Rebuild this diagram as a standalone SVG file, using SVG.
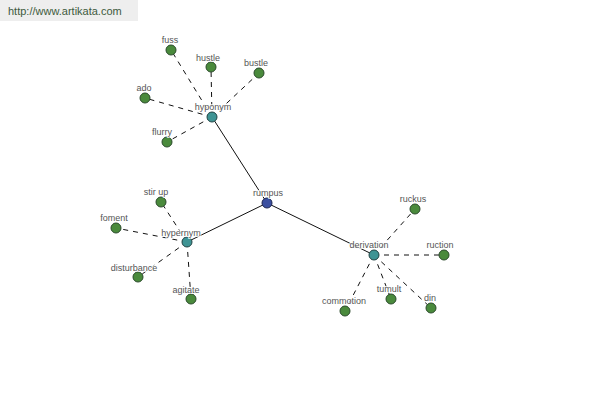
<svg xmlns="http://www.w3.org/2000/svg" width="600" height="400" viewBox="0 0 600 400">
<style>
.lbl{font-family:"Liberation Sans",Arial,sans-serif;font-size:9px;fill:#555;text-anchor:middle;paint-order:stroke;stroke:#fff;stroke-width:2px;stroke-opacity:0.8}
.leaf{fill:#4a8a3c;stroke:#2a4a2a;stroke-width:1}
.mid{fill:#3f9494;stroke:#224444;stroke-width:1}
.root{fill:#3b4fa0;stroke:#1c2550;stroke-width:1}
.solid{stroke:#111;stroke-width:1;fill:none}
.dash{stroke:#111;stroke-width:1;fill:none;stroke-dasharray:5,5}
</style>
<rect width="600" height="400" fill="#fff"/>
<g id="header">
<rect x="0" y="0" width="138" height="21" fill="#eeeeee"/>
<text x="8" y="15" font-family="Liberation Sans,Arial,sans-serif" font-size="11" fill="#3d5a3d">http://www.artikata.com</text>
</g>
<g id="connectors">
<line class="solid" x1="267" y1="203" x2="212" y2="117"/>
<line class="solid" x1="267" y1="203" x2="187" y2="242"/>
<line class="solid" x1="267" y1="203" x2="374" y2="255"/>
<line class="dash" x1="212" y1="117" x2="171" y2="50"/>
<line class="dash" x1="212" y1="117" x2="211" y2="67"/>
<line class="dash" x1="212" y1="117" x2="259" y2="73"/>
<line class="dash" x1="212" y1="117" x2="145" y2="98"/>
<line class="dash" x1="212" y1="117" x2="167" y2="142"/>
<line class="dash" x1="187" y1="242" x2="161" y2="202"/>
<line class="dash" x1="187" y1="242" x2="116" y2="228"/>
<line class="dash" x1="187" y1="242" x2="138" y2="277"/>
<line class="dash" x1="187" y1="242" x2="191" y2="299"/>
<line class="dash" x1="374" y1="255" x2="415" y2="209"/>
<line class="dash" x1="374" y1="255" x2="444" y2="255"/>
<line class="dash" x1="374" y1="255" x2="431" y2="308"/>
<line class="dash" x1="374" y1="255" x2="391" y2="299"/>
<line class="dash" x1="374" y1="255" x2="345" y2="311"/>
</g>
<g id="n-rumpus"><circle class="root" cx="267" cy="203" r="5"/><text class="lbl" x="268" y="195.5">rumpus</text></g>
<g id="n-hyponym"><circle class="mid" cx="212" cy="117" r="5"/><text class="lbl" x="213" y="109.5">hyponym</text></g>
<g id="n-hypernym"><circle class="mid" cx="187" cy="242" r="5"/><text class="lbl" x="181" y="235.5">hypernym</text></g>
<g id="n-derivation"><circle class="mid" cx="374" cy="255" r="5"/><text class="lbl" x="369" y="247.5">derivation</text></g>
<g id="n-fuss"><circle class="leaf" cx="171" cy="50" r="5"/><text class="lbl" x="170" y="42.5">fuss</text></g>
<g id="n-hustle"><circle class="leaf" cx="211" cy="67" r="5"/><text class="lbl" x="208" y="60.5">hustle</text></g>
<g id="n-bustle"><circle class="leaf" cx="259" cy="73" r="5"/><text class="lbl" x="256" y="65.5">bustle</text></g>
<g id="n-ado"><circle class="leaf" cx="145" cy="98" r="5"/><text class="lbl" x="144" y="90.5">ado</text></g>
<g id="n-flurry"><circle class="leaf" cx="167" cy="142" r="5"/><text class="lbl" x="162" y="134.5">flurry</text></g>
<g id="n-stirup"><circle class="leaf" cx="161" cy="202" r="5"/><text class="lbl" x="156" y="194.5">stir up</text></g>
<g id="n-foment"><circle class="leaf" cx="116" cy="228" r="5"/><text class="lbl" x="114" y="220.5">foment</text></g>
<g id="n-disturbance"><circle class="leaf" cx="138" cy="277" r="5"/><text class="lbl" x="134" y="270.5">disturbance</text></g>
<g id="n-agitate"><circle class="leaf" cx="191" cy="299" r="5"/><text class="lbl" x="186" y="292.5">agitate</text></g>
<g id="n-ruckus"><circle class="leaf" cx="415" cy="209" r="5"/><text class="lbl" x="413" y="201.5">ruckus</text></g>
<g id="n-ruction"><circle class="leaf" cx="444" cy="255" r="5"/><text class="lbl" x="440" y="247.5">ruction</text></g>
<g id="n-din"><circle class="leaf" cx="431" cy="308" r="5"/><text class="lbl" x="430" y="300.5">din</text></g>
<g id="n-tumult"><circle class="leaf" cx="391" cy="299" r="5"/><text class="lbl" x="389" y="291.5">tumult</text></g>
<g id="n-commotion"><circle class="leaf" cx="345" cy="311" r="5"/><text class="lbl" x="344" y="303.5">commotion</text></g>
</svg>
